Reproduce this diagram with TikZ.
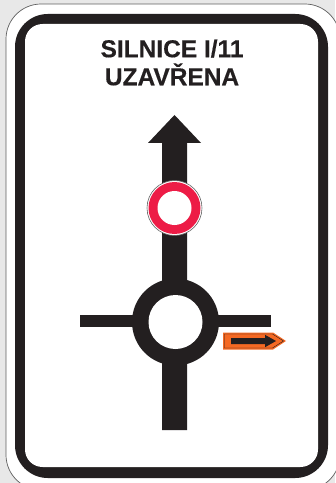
\documentclass[tikz,border=0pt]{standalone}
\usepackage{fontspec}
\setmainfont{Liberation Sans}[BoldFeatures={FakeBold=0.4}]
\usepackage{tikz}
\usetikzlibrary{positioning}
\definecolor{signblack}{RGB}{35,31,32}
\definecolor{signred}{RGB}{237,28,70}
\definecolor{signorange}{RGB}{245,105,35}
\definecolor{bggray}{RGB}{232,232,232}
\definecolor{edgegray}{RGB}{95,95,95}
\tikzset{
  road/.style={fill=signblack, draw=none},
  ttl/.style={font=\bfseries\fontsize{20.9}{23.9}\selectfont, text=signblack, align=center, inner sep=0pt},
}

\begin{document}
\begin{tikzpicture}[x=0.03cm, y=-0.03cm]
  \useasboundingbox (0,0) rectangle (335,483);
  \fill[bggray] (0,0) rectangle (335,483);
  \draw[edgegray, fill=white, line width=0.6pt, rounded corners=30] (6,4) rectangle (340,490);
  \fill[signblack, rounded corners=28] (15,14) rectangle (328,478);
  \fill[white, rounded corners=15] (25,24) rectangle (318,467);
  \node[ttl] (title) at (172,62.5) {SILNICE I/11\\UZAVŘENA};
  % arrow with the two arms
  \fill[road] (162,430) -- (162,143) -- (148,143) -- (174.5,115) -- (201,143) -- (187,143) -- (187,430) -- cycle;
  \fill[road] (80,315) rectangle (271,327);
  \fill[road] (175.5,322) circle (43.5);
  \fill[white] (175.5,322) circle (27);
  % closure disc
  \draw[edgegray, fill=white, line width=0.5pt] (174.5,208) circle (27.5);
  \fill[signred] (174.5,208) circle (26);
  \fill[white] (174.5,208) circle (17);
  % detour plate
  \fill[signorange] (223,332.5) -- (273,332.5) -- (286,341) -- (273,349.5) -- (223,349.5) -- cycle;
  \draw[signblack, line width=0.35pt] (224.5,334) -- (272.5,334) -- (283.5,341) -- (272.5,348) -- (224.5,348) -- cycle;
  \fill[signblack] (231,338) -- (265,338) -- (265,334.8) -- (276,341) -- (265,347.2) -- (265,344) -- (231,344) -- cycle;
\end{tikzpicture}
\end{document}
